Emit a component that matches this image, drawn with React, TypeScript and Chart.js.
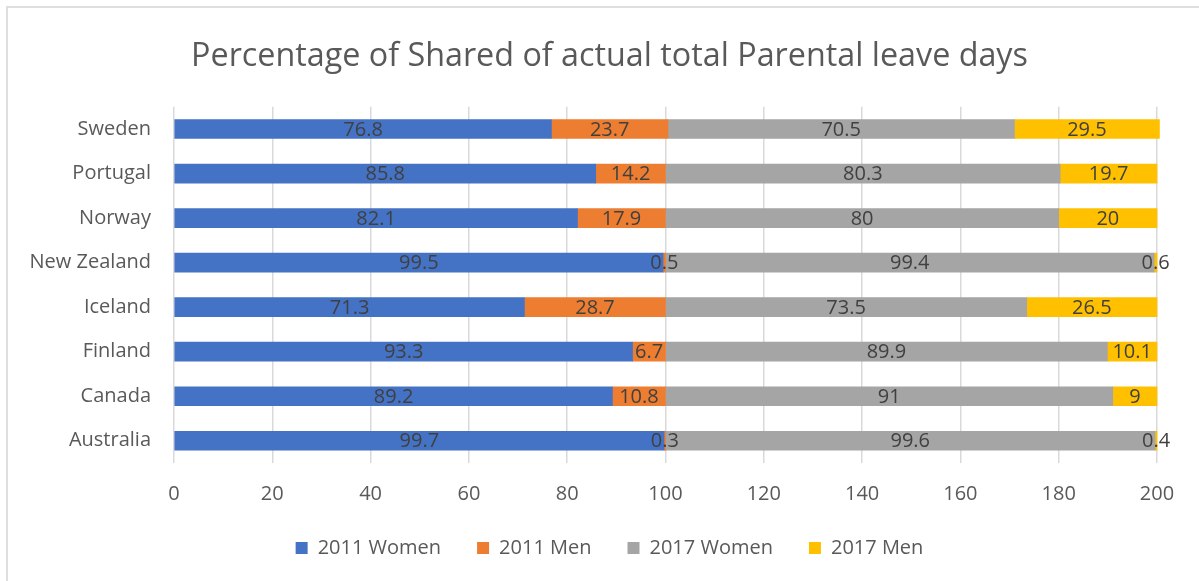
import React, { useEffect, useRef } from "react";
import { Chart, registerables } from "chart.js";

Chart.register(...registerables);

const categories = ["Sweden", "Portugal", "Norway", "New Zealand", "Iceland", "Finland", "Canada", "Australia"];
const women2011 = [76.8, 85.8, 82.1, 99.5, 71.3, 93.3, 89.2, 99.7];
const men2011 = [23.7, 14.2, 17.9, 0.5, 28.7, 6.7, 10.8, 0.3];
const women2017 = [70.5, 80.3, 80, 99.4, 73.5, 89.9, 91, 99.6];
const men2017 = [29.5, 19.7, 20, 0.6, 26.5, 10.1, 9, 0.4];
const seriesNames = ["2011 Women", "2011 Men", "2017 Women", "2017 Men"];
const seriesColors = ["#4472C4", "#ED7D31", "#A5A5A5", "#FFC000"];
const xMin = 0;
const xMax = 200;
const xStep = 20;
const titleText = "Percentage of Shared of actual total Parental leave days";

const FONT = '"Open Sans", "DejaVu Sans", sans-serif';

const dataLabels = {
  id: "dataLabels",
  afterDatasetsDraw(chart: any) {
    const ctx = chart.ctx;
    ctx.save();
    ctx.font = `20px ${FONT}`;
    ctx.fillStyle = "#404040";
    ctx.textAlign = "center";
    ctx.textBaseline = "middle";
    chart.data.datasets.forEach((ds: any, i: number) => {
      const meta = chart.getDatasetMeta(i);
      meta.data.forEach((bar: any, j: number) => {
        const p = bar.getProps(["x", "y", "base"], true);
        ctx.fillText(String(ds.data[j]), (p.x + p.base) / 2, p.y + 1);
      });
    });
    ctx.restore();
  },
};

export default function App() {
  const ref = useRef<HTMLCanvasElement | null>(null);
  useEffect(() => {
    if (!ref.current) return;
    const values = [women2011, men2011, women2017, men2017];
    const chart = new Chart(ref.current, {
      type: "bar",
      data: {
        labels: categories,
        datasets: values.map((v, i) => ({
          label: seriesNames[i],
          data: v,
          backgroundColor: seriesColors[i],
          borderWidth: 0,
          barThickness: 19,
          clip: false as any,
        })),
      },
      options: {
        indexAxis: "y",
        responsive: false,
        animation: false,
        devicePixelRatio: 1,
        layout: { padding: { left: 62, right: 42, top: 0, bottom: 13 } },
        scales: {
          x: {
            stacked: true,
            min: xMin,
            max: xMax,
            ticks: { stepSize: xStep, color: "#595959", font: { family: FONT, size: 20 }, padding: 19 },
            grid: { color: "#D9D9D9", lineWidth: 1.5, drawTicks: false },
            border: { display: false },
            afterFit: (s: any) => {
              s.height = 39;
            },
          },
          y: {
            stacked: true,
            ticks: { color: "#595959", font: { family: FONT, size: 20 }, padding: 23 },
            grid: { display: false, drawTicks: false },
            border: { display: false },
            afterFit: (s: any) => {
              s.width = 112;
              s._computeLabelArea = () => undefined;
            },
          },
        },
        plugins: {
          title: {
            display: true,
            text: titleText,
            color: "#595959",
            font: { family: FONT, size: 32.3, weight: "normal" },
            padding: { top: 37, bottom: 31 },
          },
          legend: {
            position: "bottom",
            labels: {
              color: "#595959",
              font: { family: FONT, size: 20 },
              boxWidth: 12,
              boxHeight: 12,
              padding: 36,
            },
          },
          tooltip: { enabled: false },
        },
      },
      plugins: [dataLabels],
    });
    return () => chart.destroy();
  }, []);

  return (
    <div style={{ position: "fixed", left: 0, top: 0, width: 1199, height: 581, background: "#fff" }}>
      <div
        style={{
          position: "absolute",
          left: 6,
          top: 6,
          right: 0,
          bottom: 0,
          borderTop: "2px solid #DEDEDE",
          borderLeft: "2px solid #DEDEDE",
        }}
      />
      <canvas ref={ref} width={1199} height={581} style={{ position: "absolute", left: 0, top: 0 }} />
    </div>
  );
}
